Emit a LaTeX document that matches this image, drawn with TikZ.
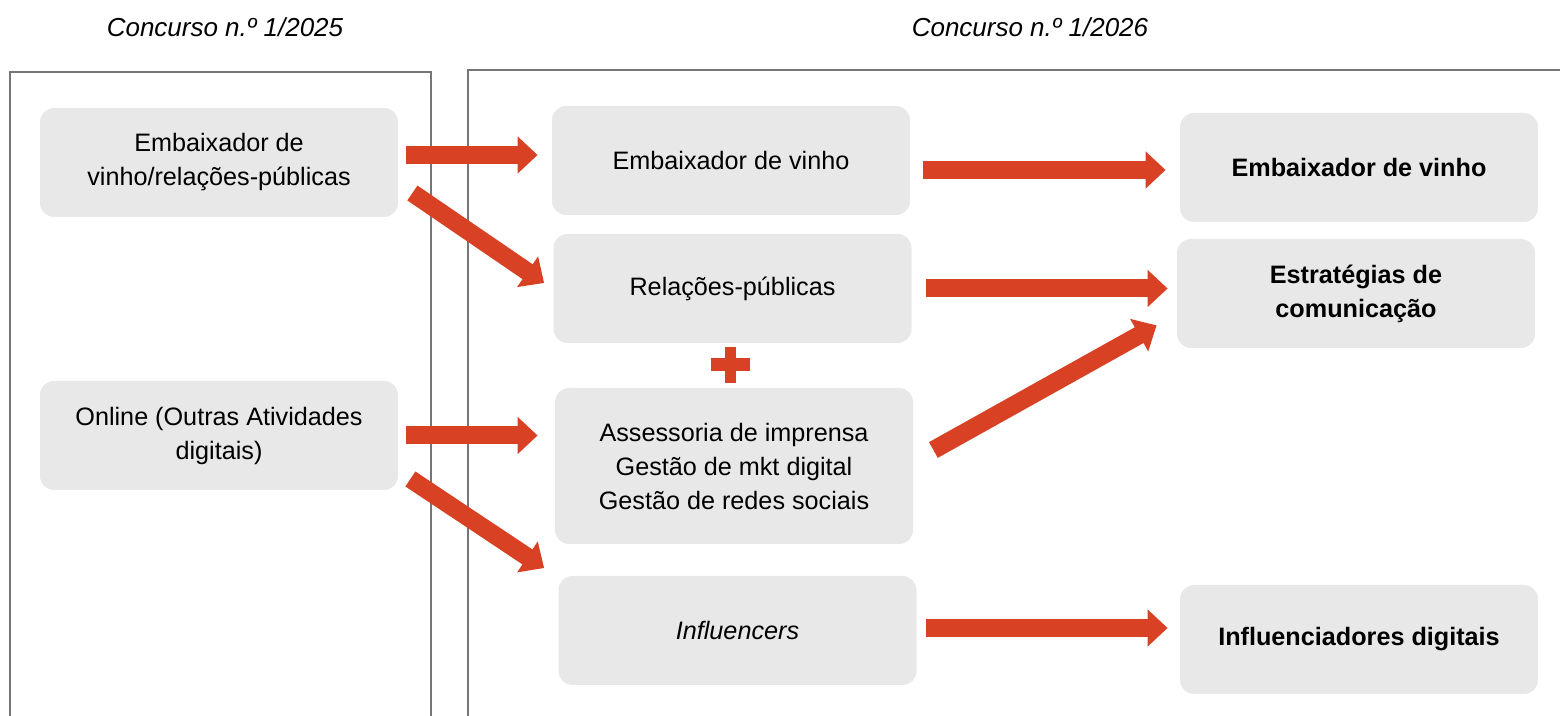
\documentclass[tikz,border=0pt]{standalone}
\usepackage{fontspec}
\setmainfont{Liberation Sans}
\usepackage{tikz}
\usetikzlibrary{arrows.meta}
\definecolor{boxgray}{HTML}{E8E8E8}
\definecolor{arrred}{HTML}{D84123}
\definecolor{framegray}{HTML}{767676}
\tikzstyle{box_n} = [rectangle, rounded corners=7pt, fill=boxgray, align=center, inner sep=0pt, minimum width=179pt, minimum height=54.5pt, font=\fontsize{12.6}{17}\selectfont]
\tikzstyle{box_b} = [box_n, font=\fontsize{12.6}{17}\selectfont\bfseries]
\tikzstyle{box_i} = [box_n, font=\fontsize{12.6}{17}\selectfont\itshape]
\tikzstyle{arr_r} = [draw=arrred, fill=arrred, line width=9pt, -{Triangle[width=18pt,length=10pt]}]
\tikzstyle{frm} = [draw=framegray, line width=1pt]
\tikzstyle{ttl} = [font=\fontsize{13}{16}\selectfont\itshape]

\begin{document}
\begin{tikzpicture}[x=0.5pt,y=-0.5pt]
\useasboundingbox (0,0) rectangle (1560,716);
\clip (0,0) rectangle (1560,716);

% titles
\node [ttl] (t_old) at (225,27) {Concurso n.º 1/2025};
\node [ttl] (t_new) at (1030,27) {Concurso n.º 1/2026};

% frames
\draw [frm] (10,730) -- (10,72) -- (431,72) -- (431,730);
\draw [frm] (468,730) -- (468,70) -- (1570,70);

% 2025
\node [box_n] (a1) at (219,162.5) {Embaixador de\\vinho/relações-públicas};
\node [box_n] (a2) at (219,435.5) {Online (Outras Atividades\\digitais)};

% 2026
\node [box_n] (b1) at (731,160.5) {Embaixador de vinho};
\node [box_n] (b2) at (732.5,288.5) {Relações-públicas};
\node [box_n, minimum height=78pt] (b3) at (734,466) {Assessoria de imprensa\\Gestão de mkt digital\\Gestão de redes sociais};
\node [box_i] (b4) at (737.5,630.5) {Influencers};

\node [box_b] (c1) at (1359,167.5) {Embaixador de vinho};
\node [box_b] (c2) at (1356,293.5) {Estratégias de\\comunicação};
\node [box_b] (c3) at (1359,639.5) {Influenciadores digitais};

% plus
\draw [arrred, line width=6.5pt] (711,365) -- (750,365);
\draw [arrred, line width=5.5pt] (730.5,347) -- (730.5,383);

% arrows
\draw [arr_r] ([xshift=4pt,yshift=3.75pt]a1.east) -- ([xshift=-7pt,yshift=3.75pt]a1.east -| b1.west);
\draw [arr_r] ([xshift=7pt,yshift=-15.25pt]a1.east) -- ([xshift=-4.5pt,yshift=2.75pt]b2.west);
\draw [arr_r] ([xshift=4pt]a2.east) -- ([xshift=-8.5pt]a2.east -| b3.west);
\draw [arr_r] ([xshift=6pt,yshift=-21.75pt]a2.east) -- ([xshift=-7pt,yshift=31.25pt]b4.west);

\draw [arr_r] ([xshift=6.5pt,yshift=-4.75pt]b1.east) -- ([xshift=-7pt,yshift=-4.75pt]b1.east -| c1.west);
\draw [arr_r] ([xshift=7pt]b2.east) -- ([xshift=-4.5pt]b2.east -| c2.west);
\draw [arr_r] ([xshift=10pt,yshift=8pt]b3.east) -- ([xshift=-10pt,yshift=11.5pt]c2.south west);
\draw [arr_r] ([xshift=4.5pt,yshift=1.25pt]b4.east) -- ([xshift=-6pt,yshift=1.25pt]b4.east -| c3.west);
\end{tikzpicture}
\end{document}
